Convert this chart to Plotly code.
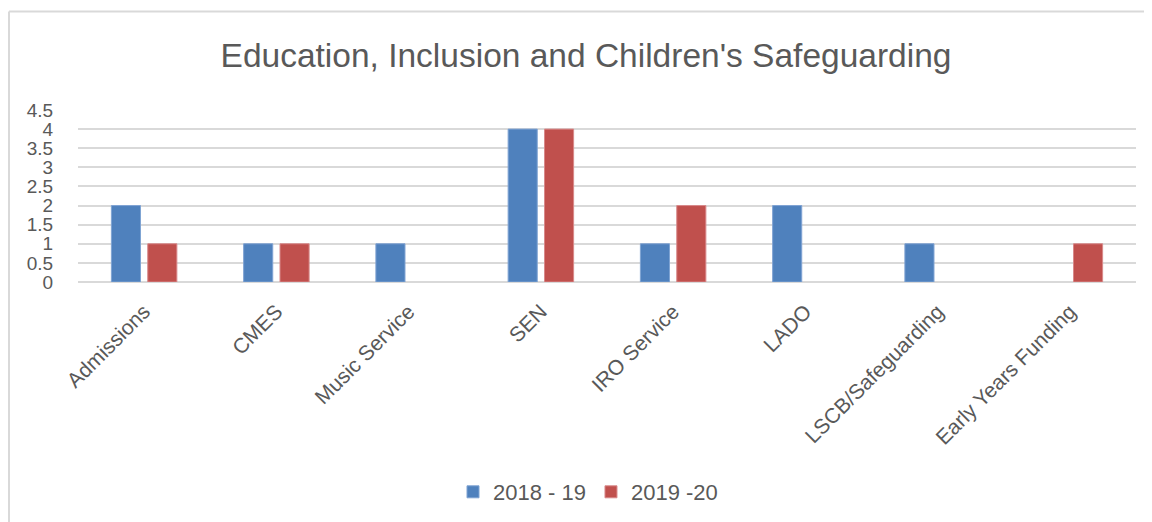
import plotly.graph_objects as go

categories = ["Admissions", "CMES", "Music Service", "SEN", "IRO Service", "LADO",
              "LSCB/Safeguarding", "Early Years Funding"]
series_2018_19 = [2, 1, 1, 4, 1, 2, 1, None]
series_2019_20 = [1, 1, None, 4, 2, None, None, 1]
y_ticks = [0, 0.5, 1, 1.5, 2, 2.5, 3, 3.5, 4, 4.5]
y_tick_labels = ["0", "0.5", "1", "1.5", "2", "2.5", "3", "3.5", "4", "4.5"]

FONT = "Liberation Sans, Arial, sans-serif"
TXT = "#595959"

fig = go.Figure()
fig.add_trace(go.Bar(x=categories, y=series_2018_19, name="2018 - 19",
                     marker=dict(color="#4F81BD", line=dict(color="#7FA3D3", width=1))))
fig.add_trace(go.Bar(x=categories, y=series_2019_20, name="2019 -20",
                     marker=dict(color="#C0504D", line=dict(color="#D8898A", width=1))))

# page has an 8px body margin, so the figure is 8px smaller and shifted
W, H = 1144, 514
L, R, T, B = 70, 16, 102, 239
pw, ph = W - L - R, H - T - B

fig.update_layout(
    width=W, height=H,
    margin=dict(l=L, r=R, t=T, b=B),
    paper_bgcolor="white", plot_bgcolor="white",
    bargap=0.45, bargroupgap=0.2,
    title=dict(text="Education, Inclusion and Children's Safeguarding",
               x=578 / W, xanchor="center", y=1 - 47 / H, yanchor="middle",
               font=dict(family=FONT, size=33.5, color=TXT)),
    font=dict(family=FONT, color=TXT),
    legend=dict(orientation="h", x=(580 - L) / pw, xanchor="center",
                y=(H - B - 484) / ph, yanchor="middle",
                font=dict(family=FONT, size=22, color=TXT),
                traceorder="normal"),
    showlegend=True,
    xaxis=dict(tickangle=-45, tickfont=dict(family=FONT, size=21, color=TXT),
               showgrid=False, showline=False,
               ticks="outside", ticklen=8, tickcolor="rgba(0,0,0,0)"),
    yaxis=dict(range=[0, 4.5], tickvals=y_ticks, ticktext=y_tick_labels,
               tickfont=dict(family=FONT, size=19, color=TXT),
               showgrid=True, gridcolor="#D9D9D9", gridwidth=2,
               zeroline=True, zerolinecolor="#D9D9D9", zerolinewidth=2,
               showline=False, ticks="outside", ticklen=20, tickcolor="rgba(0,0,0,0)"),
)

# outer chart border (top and left visible)
fig.add_shape(type="line", xref="paper", yref="paper",
              x0=(1 - L) / pw, x1=(W + 5 - L) / pw,
              y0=(H - B - 3) / ph, y1=(H - B - 3) / ph,
              line=dict(color="#D9D9D9", width=2))
fig.add_shape(type="line", xref="paper", yref="paper",
              x0=(1 - L) / pw, x1=(1 - L) / pw,
              y0=(H - B - 3) / ph, y1=(H - B - 530) / ph,
              line=dict(color="#D9D9D9", width=2))

fig.write_html("out.html")
